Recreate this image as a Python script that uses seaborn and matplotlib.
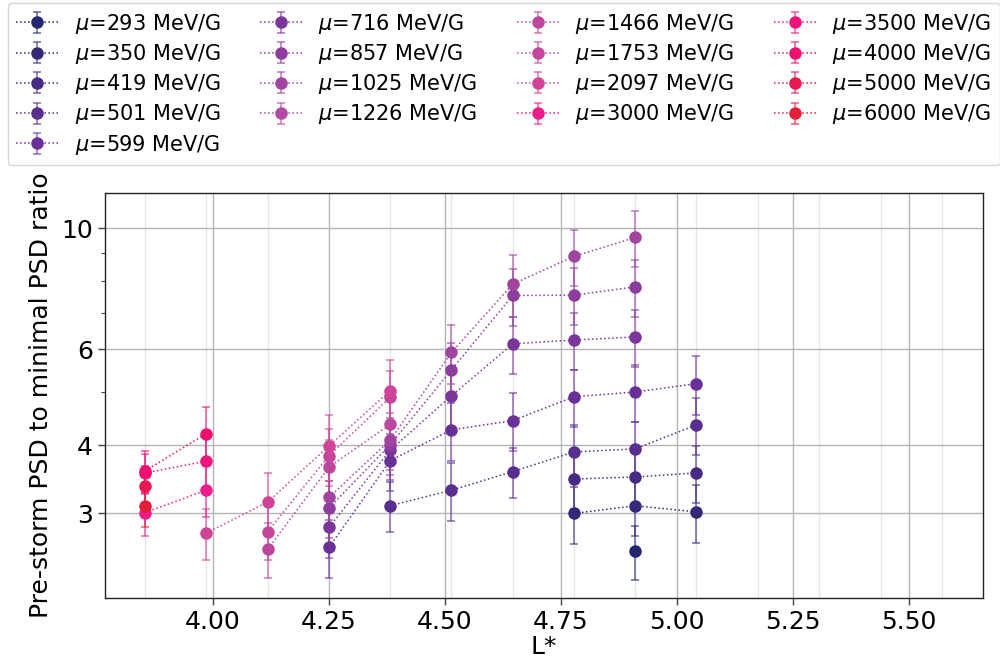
import numpy as np
import matplotlib
matplotlib.use("Agg")
import matplotlib.pyplot as plt
import seaborn as sns
from matplotlib.colors import LinearSegmentedColormap
from matplotlib.ticker import FixedLocator, ScalarFormatter, NullFormatter, FormatStrFormatter

# L* bins of the PSD profiles
L_STAR = [3.853, 3.985, 4.118, 4.250, 4.382, 4.514, 4.646, 4.778, 4.910, 5.042]
# grid lines continue at the bin spacing beyond the last populated bin
L_GRID = [3.853, 3.985, 4.118, 4.250, 4.382, 4.514, 4.646, 4.778, 4.910, 5.042,
          5.175, 5.307, 5.440, 5.572]

MU = [293, 350, 419, 501, 599, 716, 857, 1025, 1226, 1466, 1753, 2097,
      3000, 3500, 4000, 5000, 6000]

n = None
# pre-storm / minimal PSD ratio per mu (one entry per L* bin)
r293  = [n, n, n, n, n, n, n, n, 2.56, n]
r350  = [n, n, n, n, n, n, n, 3.00, 3.10, 3.02]
r419  = [n, n, n, n, n, n, n, 3.47, 3.50, 3.56]
r501  = [n, n, n, n, 3.10, 3.31, 3.58, 3.89, 3.94, 4.36]
r599  = [n, n, n, 2.60, 3.75, 4.27, 4.44, 4.91, 5.01, 5.19]
r716  = [n, n, n, 2.83, 3.92, 4.93, 6.14, 6.24, 6.32, n]
r857  = [n, n, n, 3.07, 4.01, 5.50, 7.53, 7.54, 7.81, n]
r1025 = [n, n, n, 3.21, 4.09, 5.92, 7.90, 8.88, 9.62, n]
r1226 = [n, n, n, n, n, n, n, n, n, n]
r1466 = [n, n, 2.58, 3.65, 4.37, n, n, n, n, n]
r1753 = [n, n, 2.78, 3.83, 4.90, n, n, n, n, n]
r2097 = [n, 2.76, 3.15, 3.99, 5.04, n, n, n, n, n]
r3000 = [3.01, 3.31, n, n, n, n, n, n, n, n]
r3500 = [3.56, 3.74, n, n, n, n, n, n, n, n]
r4000 = [3.59, 4.20, n, n, n, n, n, n, n, n]
r5000 = [3.37, n, n, n, n, n, n, n, n, n]
r6000 = [3.10, n, n, n, n, n, n, n, n, n]

# 1-sigma uncertainties of the ratios
e293  = [n, n, n, n, n, n, n, n, 0.29, n]
e350  = [n, n, n, n, n, n, n, 0.36, 0.37, 0.37]
e419  = [n, n, n, n, n, n, n, 0.41, 0.42, 0.43]
e501  = [n, n, n, n, 0.32, 0.40, 0.38, 0.46, 0.47, 0.52]
e599  = [n, n, n, 0.32, 0.45, 0.52, 0.54, 0.59, 0.60, 0.64]
e716  = [n, n, n, 0.34, 0.47, 0.60, 0.74, 0.75, 0.76, n]
e857  = [n, n, n, 0.37, 0.48, 0.66, 0.90, 0.90, 0.94, n]
e1025 = [n, n, n, 0.39, 0.49, 0.73, 1.03, 1.03, 1.12, n]
e1226 = [n, n, n, n, n, n, n, n, n, n]
e1466 = [n, n, 0.30, 0.44, 0.52, n, n, n, n, n]
e1753 = [n, n, 0.32, 0.46, 0.58, n, n, n, n, n]
e2097 = [n, 0.30, 0.41, 0.55, 0.70, n, n, n, n, n]
e3000 = [0.28, 0.36, n, n, n, n, n, n, n, n]
e3500 = [0.30, 0.42, n, n, n, n, n, n, n, n]
e4000 = [0.32, 0.50, n, n, n, n, n, n, n, n]
e5000 = [0.29, n, n, n, n, n, n, n, n, n]
e6000 = [0.27, n, n, n, n, n, n, n, n, n]

RATIOS = [r293, r350, r419, r501, r599, r716, r857, r1025, r1226, r1466,
          r1753, r2097, r3000, r3500, r4000, r5000, r6000]
ERRORS = [e293, e350, e419, e501, e599, e716, e857, e1025, e1226, e1466,
          e1753, e2097, e3000, e3500, e4000, e5000, e6000]

Y_TICKS = [3, 4, 6, 10]
X_TICKS = [4.00, 4.25, 4.50, 4.75, 5.00, 5.25, 5.50]

sns.set_theme(style="ticks")
plt.rcParams["font.family"] = ["DejaVu Sans"]
plt.rcParams["mathtext.fontset"] = "dejavusans"
for key in ("text.color", "axes.labelcolor", "xtick.color", "ytick.color"):
    plt.rcParams[key] = "black"

# colour by log(mu): navy -> purple -> orchid -> hot pink -> crimson
cmap = LinearSegmentedColormap.from_list(
    "mu_cmap",
    [(0.00, "#22276f"), (0.237, "#6a3099"), (0.474, "#b24aa2"),
     (0.652, "#d04497"), (0.77, "#ec1c8c"), (0.87, "#ec1070"), (1.00, "#e31f3a")])
logmu = np.log10(MU)
tnorm = (logmu - logmu.min()) / (logmu.max() - logmu.min())
palette = [cmap(t) for t in tnorm]

fig = plt.figure(figsize=(10, 6.6), dpi=100)
ax = fig.add_axes([0.105, 0.094, 0.878, 0.614])

x = np.array(L_STAR, dtype=float)
handles = []
for mu, r, e, c in zip(MU, RATIOS, ERRORS, palette):
    y = np.array([np.nan if v is None else v for v in r], dtype=float)
    ye = np.array([np.nan if v is None else v for v in e], dtype=float)
    m = ~np.isnan(y)
    if m.sum() == 0:
        xs, ys, es = np.array([np.nan]), np.array([np.nan]), np.array([np.nan])
    else:
        xs, ys, es = x[m], y[m], ye[m]
    h = ax.errorbar(xs, ys, yerr=es, fmt="o", linestyle=":", color=c,
                    markersize=8, linewidth=1.1, elinewidth=1.2, capsize=3,
                    ecolor=(*c[:3], 0.65), capthick=1.2,
                    label=rf"$\mu$={mu} MeV/G", zorder=3)
    handles.append(h)

ax.set_yscale("log")
ax.set_xlim(3.767, 5.66)
ax.set_ylim(2.10, 11.62)
ax.yaxis.set_major_locator(FixedLocator(Y_TICKS))
ax.yaxis.set_major_formatter(ScalarFormatter())
ax.yaxis.set_minor_formatter(NullFormatter())
ax.xaxis.set_major_locator(FixedLocator(X_TICKS))
ax.xaxis.set_major_formatter(FormatStrFormatter("%.2f"))
ax.xaxis.set_minor_locator(FixedLocator(L_GRID))

ax.grid(which="major", axis="both", color="#b4b4b4", linewidth=1.0)
ax.grid(which="minor", axis="x", color="#e6e6e6", linewidth=1.0)
ax.set_axisbelow(True)
for s in ax.spines.values():
    s.set_color("#222222")
    s.set_linewidth(1.0)
ax.tick_params(axis="both", which="major", labelsize=18, length=5, width=1, color="#444444")
ax.tick_params(axis="y", which="minor", length=3, width=0.8, color="#444444")
ax.tick_params(axis="x", which="minor", length=0)

ax.set_xlabel("L*", fontsize=18, labelpad=1)
ax.set_ylabel("Pre-storm PSD to minimal PSD ratio", fontsize=18, labelpad=6)

leg = fig.legend(handles=handles, loc="upper center", ncol=4, mode="expand",
                 bbox_to_anchor=(0.008, 0.752, 0.992, 0.243), fontsize=15,
                 frameon=True, fancybox=True, borderaxespad=0.0,
                 handlelength=2.0, labelspacing=0.3)
leg.get_frame().set_edgecolor("#cccccc")

fig.savefig("out.png", dpi=100)
